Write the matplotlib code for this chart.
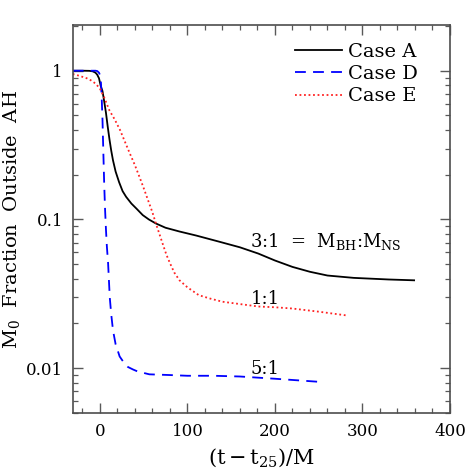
import matplotlib
matplotlib.use('Agg')
import matplotlib.pyplot as plt
from matplotlib.ticker import MultipleLocator, LogLocator, NullFormatter, FixedFormatter, FixedLocator

plt.rcParams['font.family'] = ['DejaVu Serif']
plt.rcParams['mathtext.fontset'] = 'dejavuserif'

# Case A (3:1)
xA = [-31, -20, -12, -8, -5, -3, -1, 1, 3, 5, 7, 9, 11, 13, 15, 18, 22, 26, 30, 36, 42, 49, 56, 64,
      75, 91, 110, 136, 160, 181, 200, 220, 240, 260, 290, 330, 359]
yA = [1.0, 1.0, 0.998, 0.99, 0.97, 0.94, 0.89, 0.79, 0.73, 0.62, 0.52, 0.42, 0.345, 0.29, 0.25, 0.21,
      0.178, 0.155, 0.142, 0.128, 0.118, 0.107, 0.100, 0.094, 0.088, 0.083, 0.078, 0.071, 0.065,
      0.059, 0.053, 0.048, 0.0445, 0.042, 0.0405, 0.0395, 0.039]

# Case D (5:1)
xD = [-31, -10, -5, -3, -1, 0, 1, 2, 3, 4, 5, 6, 7, 8, 9.4, 11.3, 13, 15, 18, 22.6, 27, 32, 38, 43.4,
      50, 56.6, 80, 100, 130, 160, 200, 251]
yD = [1.0, 1.0, 1.0, 0.995, 0.97, 0.94, 0.88, 0.68, 0.47, 0.28, 0.17, 0.115, 0.085, 0.066, 0.051,
      0.030, 0.023, 0.018, 0.0145, 0.012, 0.011, 0.0102, 0.0098, 0.0095, 0.0093, 0.0091, 0.009,
      0.0089, 0.0089, 0.0088, 0.0085, 0.0081]

# Case E (1:1)
xE = [-31, -25, -20, -15, -10, -5, 0, 5, 11, 17, 23, 28, 34, 40, 45, 50, 55, 60, 64, 68, 72, 76,
      80, 85, 91, 100, 113, 125, 140, 160, 181, 200, 220, 250, 283]
yE = [0.95, 0.93, 0.91, 0.89, 0.86, 0.82, 0.76, 0.66, 0.54, 0.47, 0.40, 0.34, 0.28, 0.232, 0.195,
      0.163, 0.135, 0.112, 0.094, 0.08, 0.068, 0.058, 0.051, 0.044, 0.039, 0.035, 0.031, 0.0295,
      0.028, 0.027, 0.026, 0.0257, 0.0252, 0.024, 0.0226]

fig = plt.figure(figsize=(4.71, 4.71), dpi=100)
ax = fig.add_axes([0.1544, 0.1231, 0.801, 0.8232])

ax.plot(xA, yA, color='black', lw=1.3, label='Case A')
ax.plot(xD, yD, color='#0000ff', lw=1.3, ls=(0, (6, 4)), label='Case D')
ax.plot(xE, yE, color='#ff2222', lw=1.3, ls=(0, (1, 1.5)), label='Case E')

ax.set_yscale('log')
ax.set_xlim(-31, 400)
ax.set_ylim(0.005, 2.02)

ax.xaxis.set_major_locator(MultipleLocator(100))
ax.xaxis.set_minor_locator(MultipleLocator(20))
ax.yaxis.set_major_locator(FixedLocator([0.01, 0.1, 1]))
ax.yaxis.set_major_formatter(FixedFormatter(['0.01', '0.1', '1']))
ax.yaxis.set_minor_locator(LogLocator(base=10, subs=range(2, 10)))
ax.yaxis.set_minor_formatter(NullFormatter())

ax.tick_params(which='both', direction='in', top=True, right=True, color='0.35', labelsize=12)
ax.tick_params(which='major', length=7.5, width=1.0, pad=7)
ax.tick_params(which='minor', length=3.8, width=0.9)
for s in ax.spines.values():
    s.set_color('0.3')
    s.set_linewidth(1.2)

ax.set_xlabel(r'$\rm(t-t_{25})/M$', fontsize=15, labelpad=5)
ax.set_ylabel(r'M$_0$  Fraction  Outside  AH', fontsize=14, labelpad=3)

ax.text(172, 0.0716, r'3:1  =  M$_{\rm BH}$:M$_{\rm NS}$', fontsize=13, va='center')
ax.text(172, 0.029, '1:1', fontsize=13, va='center')
ax.text(172, 0.0099, '5:1', fontsize=13, va='center')

ax.legend(loc='upper right', frameon=False, fontsize=14, handlelength=2.4,
          handletextpad=0.3, labelspacing=0.22, borderaxespad=0.3,
          bbox_to_anchor=(0.95, 0.99))

fig.savefig('out.png', dpi=100)
